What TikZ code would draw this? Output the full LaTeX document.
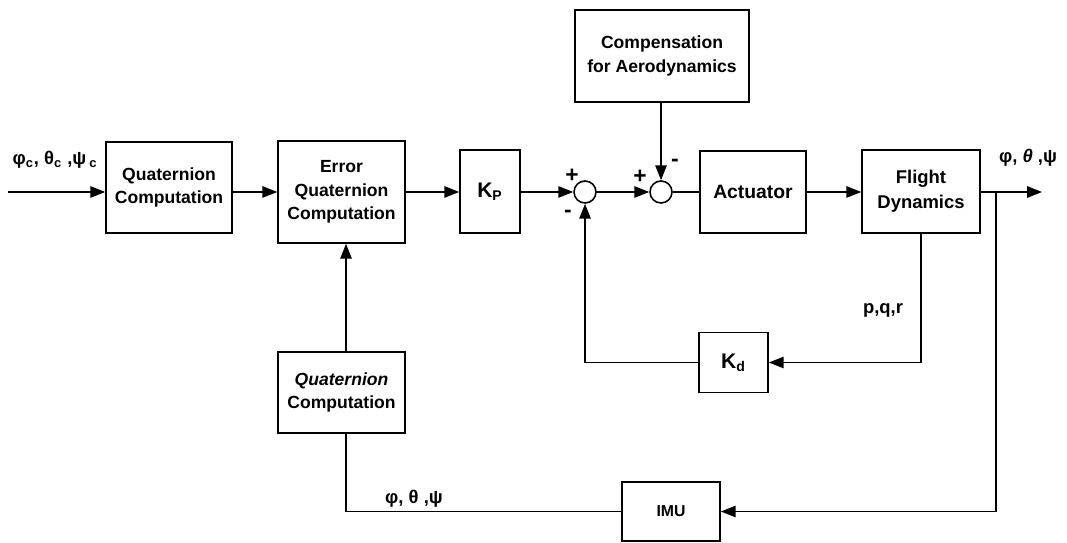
\documentclass[tikz,border=0pt]{standalone}
\usepackage{fontspec}
\setmainfont{Liberation Sans}
\usetikzlibrary{arrows.meta}
\begin{document}
\begin{tikzpicture}[x=0.02cm,y=-0.02cm,
  every node/.style={font=\fontsize{10}{13.5}\selectfont\bfseries},
  blk/.style={draw,line width=0.9pt,align=center,inner sep=0pt},
  gain/.style={blk,font=\fontsize{12}{14}\selectfont\bfseries},
  sumc/.style={draw,circle,line width=0.9pt,minimum size=0.44cm,inner sep=0pt},
  conn/.style={line width=0.9pt},
  arr/.style={line width=0.9pt,-{Triangle[length=8.5pt,width=6.5pt]}},
  lbl/.style={inner sep=0pt},
  sgn/.style={inner sep=0pt,font=\fontsize{13}{14}\selectfont\bfseries}]
\useasboundingbox (0,0) rectangle (1067,543);
% blocks
\node[blk,minimum width=2.52cm,minimum height=1.82cm] (qc1) at (169,187.5) {Quaternion\\Computation};
\node[blk,minimum width=2.54cm,minimum height=2.04cm] (eqc) at (341.5,192) {Error\\Quaternion\\Computation};
\node[gain,minimum width=1.2cm,minimum height=1.66cm] (kp) at (490,191.5) {K\textsubscript{P}};
\node[sumc] (s1) at (585,192) {};
\node[sumc] (s2) at (661,192) {};
\node[blk,minimum width=3.48cm,minimum height=1.84cm] (comp) at (662,56) {Compensation\\for Aerodynamics};
\node[blk,minimum width=2.12cm,minimum height=1.64cm,font=\fontsize{11}{13.5}\selectfont\bfseries] (act) at (753,192) {Actuator};
\node[blk,minimum width=2.36cm,minimum height=1.66cm,font=\fontsize{10.5}{14}\selectfont\bfseries] (fd) at (921,191.5) {Flight\\Dynamics};
\node[gain,minimum width=1.38cm,minimum height=1.2cm] (kd) at (733.5,362.5) {K\textsubscript{d}};
\node[blk,minimum width=2.54cm,minimum height=1.62cm] (qc2) at (341.5,392.5) {\itshape Quaternion\\Computation};
\node[blk,minimum width=1.96cm,minimum height=1.18cm,font=\fontsize{9}{11}\selectfont\bfseries] (imu) at (671,511.5) {IMU};
% free ends
\coordinate (in) at (8,192);
\coordinate (out) at (1042,192);
\coordinate (br) at (996,192);
% connectors
\draw[arr] (in) -- (qc1.west |- in);
\draw[arr] (qc1.east |- s1) -- (eqc.west |- s1);
\draw[arr] (eqc.east |- s1) -- (kp.west |- s1);
\draw[arr] (kp.east |- s1) -- (s1.west);
\draw[arr] (s1.east) -- (s2.west);
\draw[conn] (s2.east) -- (act.west |- s2);
\draw[arr] (act.east |- s2) -- (fd.west |- s2);
\draw[arr] (fd.east |- s2) -- (out);
\draw[arr] (s2.north |- comp.south) -- (s2.north);
\draw[arr] (fd.south) |- (kd.east);
\draw[arr] (kd.west) -| (s1.south);
\draw[arr] (br) |- (imu.east);
\draw[conn] ([xshift=0.09cm]qc2.south) |- (imu.west);
\draw[arr] ([xshift=0.09cm]qc2.north) -- ([xshift=0.09cm]eqc.south);
% labels
\node[lbl,font=\fontsize{10.5}{13}\selectfont\bfseries] (lin) at (55,160) {φ\textsubscript{c}, θ\textsubscript{c} ,ψ\,\textsubscript{c}};
\node[sgn] (p1) at (572,176) {+};
\node[sgn] (m1) at (568,214) {-};
\node[sgn] (p2) at (640,177) {+};
\node[sgn] (m2) at (675,163) {-};
\node[lbl,font=\fontsize{10.5}{13}\selectfont\bfseries] (lpqr) at (883,310) {p,q,r};
\node[lbl,font=\fontsize{10.5}{13}\selectfont\bfseries] (lout) at (1028,158) {φ, {\itshape θ} ,ψ};
\node[lbl,font=\fontsize{10.5}{13}\selectfont\bfseries] (lfb) at (414,499) {φ, θ ,ψ};
\end{tikzpicture}
\end{document}
